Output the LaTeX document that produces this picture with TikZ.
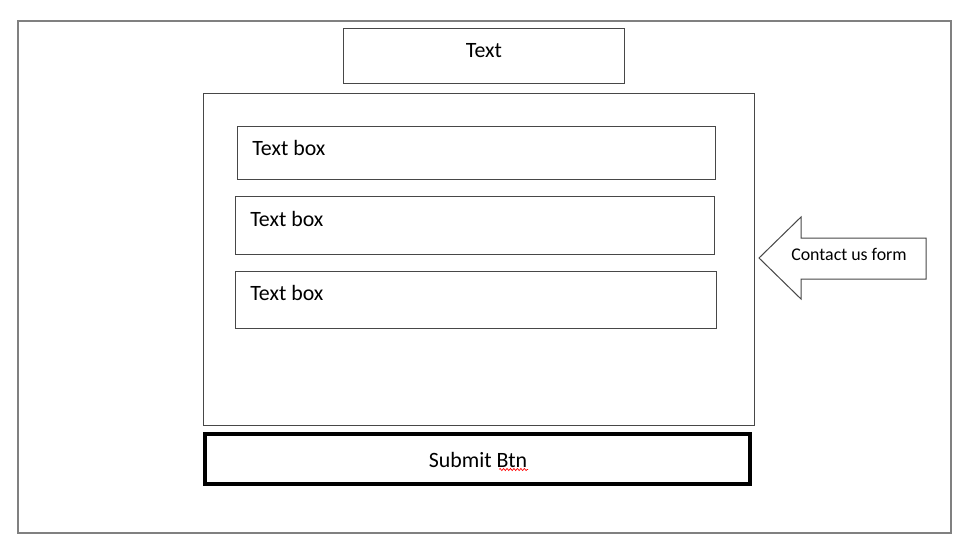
\documentclass[tikz,border=0pt]{standalone}
\usepackage{fontspec}
\setmainfont{Carlito}
\usetikzlibrary{fit,decorations.pathmorphing}
\begin{document}
\begin{tikzpicture}[x=0.75pt,y=-0.75pt,
  frame/.style={draw=black!50, line width=1.1pt, inner sep=0pt},
  box/.style={draw=black!72, line width=0.75pt, inner sep=0pt},
  btn/.style={draw=black, line width=3.6pt, inner sep=0pt},
  lbl/.style={inner sep=0pt, font=\fontsize{16.4}{19}\selectfont},
  small/.style={inner sep=0pt, font=\fontsize{13.4}{16}\selectfont}]
\useasboundingbox (0,0) rectangle (963,549);
\fill[white] (0,0) rectangle (963,549);
\node[frame, fit={(18,21)(951,533)}] (outer) {};
\node[box, fit={(343,29)(624,84)}] (title) {};
\node[lbl, anchor=base] (titletext) at (484,58) {Text};
\node[box, fit={(203,94)(754,425)}] (form) {};
\node[box, fit={(237,127)(715,179)}] (tb1) {};
\node[lbl, anchor=base west] (tb1text) at (252,156) {Text box};
\node[box, fit={(235,196)(714,254)}] (tb2) {};
\node[lbl, anchor=base west] (tb2text) at (250,226) {Text box};
\node[box, fit={(235,271)(716,328)}] (tb3) {};
\node[lbl, anchor=base west] (tb3text) at (250,300) {Text box};
\node[btn, fit={(205,434)(750,484)}] (submit) {};
\node[lbl, anchor=base] (submittext) at (478,467) {Submit Btn};
\draw[red, line width=0.5pt, decorate, decoration={snake, amplitude=0.8pt, segment length=2.6pt}] (499,469.5) -- (528,469.5);
\draw[box] (759,258) -- (801,217) -- (801,238) -- (926,238) -- (926,279) -- (801,279) -- (801,299) -- cycle;
\node[small, anchor=base] (arrowtext) at (849,260) {Contact us form};
\end{tikzpicture}
\end{document}
